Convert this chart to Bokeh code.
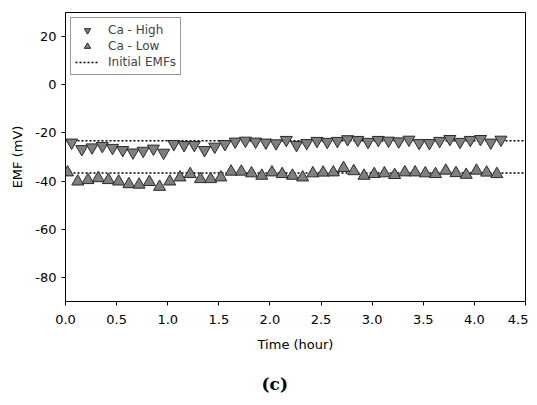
from bokeh.plotting import figure
from bokeh.models import Legend, LegendItem, LinearAxis, FixedTicker, CustomJSTickFormatter, Range1d
from bokeh.embed import file_html
from bokeh.resources import INLINE

# ---- data ----
high_t = [0.06, 0.16, 0.26, 0.36, 0.46, 0.56, 0.66, 0.76, 0.86, 0.96,
          1.06, 1.16, 1.26, 1.36, 1.46, 1.56, 1.66, 1.76, 1.86, 1.96,
          2.06, 2.16, 2.26, 2.36, 2.46, 2.56, 2.66, 2.76, 2.86, 2.96,
          3.06, 3.16, 3.26, 3.36, 3.46, 3.56, 3.66, 3.76, 3.86, 3.96,
          4.06, 4.16, 4.26]
high_emf = [-24.0, -26.7, -26.0, -25.4, -26.2, -27.1, -28.1, -27.4, -26.5, -28.2,
            -24.6, -25.0, -25.0, -27.1, -25.7, -24.6, -23.6, -23.2, -23.6, -24.0,
            -24.3, -22.9, -25.0, -24.2, -23.3, -23.7, -23.3, -22.6, -22.9, -23.7,
            -22.9, -23.2, -23.5, -22.8, -24.2, -24.2, -23.3, -22.5, -23.7, -22.9,
            -22.5, -24.0, -22.8]
low_t = [0.02, 0.12, 0.22, 0.32, 0.42, 0.52, 0.62, 0.72, 0.82, 0.92,
         1.02, 1.12, 1.22, 1.32, 1.42, 1.52, 1.62, 1.72, 1.82, 1.92,
         2.02, 2.12, 2.22, 2.32, 2.42, 2.52, 2.62, 2.72, 2.82, 2.92,
         3.02, 3.12, 3.22, 3.32, 3.42, 3.52, 3.62, 3.72, 3.82, 3.92,
         4.02, 4.12, 4.22]
low_emf = [-36.4, -40.2, -39.6, -38.8, -39.6, -40.2, -41.3, -41.5, -40.4, -42.4,
           -40.2, -38.5, -37.1, -39.2, -39.2, -38.5, -36.1, -36.1, -36.8, -37.8,
           -36.4, -37.1, -37.8, -38.5, -36.8, -36.5, -36.4, -34.6, -35.9, -37.8,
           -37.1, -36.8, -37.5, -36.4, -36.4, -36.8, -37.1, -35.7, -36.7, -37.4,
           -35.7, -36.5, -37.1]
initial_high = -23.3
initial_low = -36.6

x_min, x_max = 0.0, 4.5
y_min, y_max = -90, 30
x_ticks = [0.0, 0.5, 1.0, 1.5, 2.0, 2.5, 3.0, 3.5, 4.0, 4.5]
y_ticks = [20, 0, -20, -40, -60, -80]

FONT = "DejaVu Sans"

p = figure(width=528, height=397, output_backend="svg", toolbar_location=None,
           x_range=Range1d(x_min, x_max), y_range=Range1d(y_min, y_max),
           min_border_left=65, min_border_right=3, min_border_top=12, min_border_bottom=96)
p.grid.visible = False
p.outline_line_color = "black"
p.outline_line_width = 1
p.background_fill_color = "white"
p.border_fill_color = "white"

for ax in (p.xaxis[0], p.yaxis[0]):
    ax.axis_line_color = "black"
    ax.major_tick_line_color = "black"
    ax.major_tick_out = 4
    ax.major_tick_in = 0
    ax.minor_tick_line_color = None
    ax.major_label_text_font = FONT
    ax.major_label_text_font_size = "13px"
    ax.major_label_text_color = "black"
    ax.axis_label_text_font = FONT
    ax.axis_label_text_font_size = "13px"
    ax.axis_label_text_font_style = "normal"
    ax.axis_label_text_color = "black"

p.xaxis.ticker = FixedTicker(ticks=x_ticks)
p.xaxis.formatter = CustomJSTickFormatter(code="return tick.toFixed(1);")
p.yaxis.ticker = FixedTicker(ticks=y_ticks)
p.yaxis.formatter = CustomJSTickFormatter(code="return tick.toString();")
p.xaxis.axis_label = "Time (hour)"
p.yaxis.axis_label = "EMF (mV)"
p.xaxis.major_label_standoff = 9
p.xaxis.axis_label_standoff = 10
p.yaxis.major_label_standoff = 5
p.yaxis.axis_label_standoff = 7

# caption "(c)" as a tick-less axis label below the x axis
cap_axis = LinearAxis(axis_label="(c)" + "\u00a0" * 7, ticker=FixedTicker(ticks=[]),
                      axis_line_color=None, major_tick_line_color=None,
                      minor_tick_line_color=None, major_tick_out=0, major_tick_in=0,
                      major_label_standoff=0, major_label_text_font_size="0px",
                      axis_label_standoff=19, axis_label_text_font="DejaVu Serif",
                      axis_label_text_font_size="17px", axis_label_text_font_style="bold",
                      axis_label_text_color="black")
p.add_layout(cap_axis, "below")

l_hi = p.line([x_min, x_max], [initial_high, initial_high], line_color="black",
              line_width=1.5, line_dash="2 2")
l_lo = p.line([x_min, x_max], [initial_low, initial_low], line_color="black",
              line_width=1.5, line_dash="2 2")

r_hi = p.scatter(high_t, high_emf, marker="inverted_triangle", size=12,
                 fill_color="#7f7f7f", line_color="#2a2a2a", line_width=1)
r_lo = p.scatter(low_t, low_emf, marker="triangle", size=12,
                 fill_color="#7f7f7f", line_color="#2a2a2a", line_width=1)

legend = Legend(items=[LegendItem(label="Ca - High", renderers=[r_hi]),
                       LegendItem(label="Ca - Low", renderers=[r_lo]),
                       LegendItem(label="Initial EMFs", renderers=[l_hi])],
                location="top_left", margin=5, padding=4, spacing=0,
                glyph_height=16, glyph_width=24, label_height=16, label_standoff=9,
                label_width=49,
                label_text_font=FONT, label_text_font_size="12px",
                border_line_color="#333333", border_line_width=1,
                background_fill_alpha=1.0)
p.add_layout(legend)

open("out.html", "w").write(file_html(p, INLINE))
